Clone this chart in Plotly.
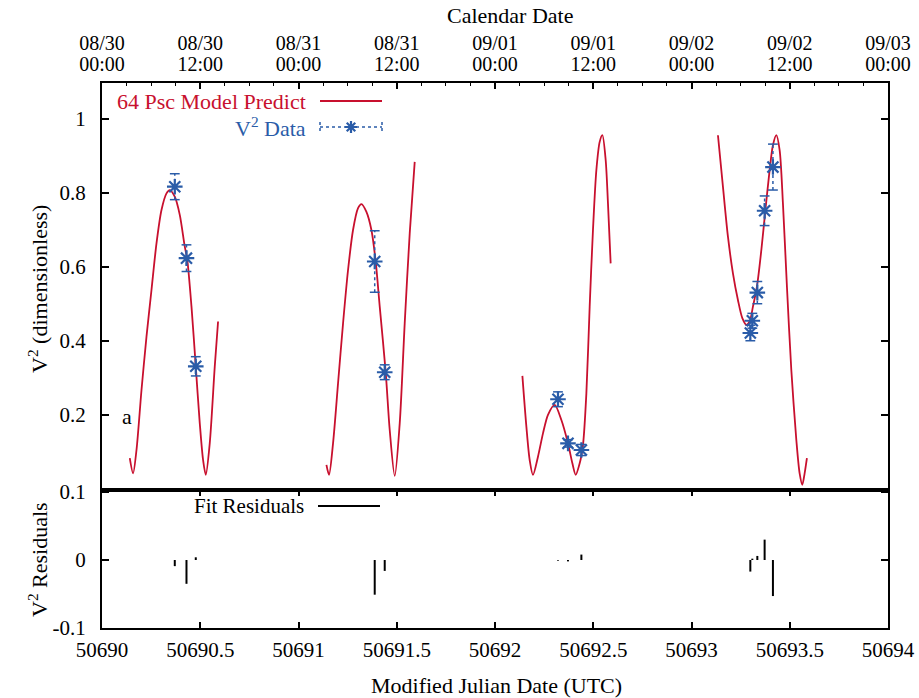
import plotly.graph_objects as go

# ---------------- data ----------------
# Model prediction curve, one segment per night (MJD, V^2)
model_n1_mjd = [50690.1414, 50690.1582, 50690.1755, 50690.2010, 50690.2264, 50690.2518, 50690.2773,
                50690.3027, 50690.3282, 50690.3450, 50690.3704, 50690.3958, 50690.4213, 50690.4330,
                50690.4554, 50690.4772, 50690.4976, 50690.5144, 50690.5281, 50690.5483, 50690.5738,
                50690.5907]
model_n1_v2 = [0.083, 0.042, 0.105, 0.267, 0.411, 0.537, 0.663, 0.753, 0.798, 0.807, 0.789, 0.740,
               0.654, 0.623, 0.492, 0.330, 0.177, 0.078, 0.038, 0.123, 0.330, 0.452]

model_n2_mjd = [50691.1422, 50691.1554, 50691.1758, 50691.2012, 50691.2267, 50691.2521, 50691.2775,
                50691.3030, 50691.3203, 50691.3457, 50691.3711, 50691.3930, 50691.4134, 50691.4439,
                50691.4642, 50691.4897, 50691.5151, 50691.5405, 50691.5660, 50691.5914]
model_n2_v2 = [0.065, 0.038, 0.123, 0.285, 0.447, 0.591, 0.699, 0.758, 0.769, 0.748, 0.699, 0.613,
               0.492, 0.314, 0.159, 0.035, 0.177, 0.447, 0.690, 0.883]

model_n3_mjd = [50692.1394, 50692.1597, 50692.1765, 50692.1933, 50692.2187, 50692.2442, 50692.2696,
                50692.3037, 50692.3378, 50692.3714, 50692.3938, 50692.4106, 50692.4310, 50692.4478,
                50692.4650, 50692.4818, 50692.4986, 50692.5159, 50692.5327, 50692.5464, 50692.5632,
                50692.5749, 50692.5886]
model_n3_v2 = [0.305, 0.168, 0.078, 0.038, 0.087, 0.150, 0.200, 0.227, 0.186, 0.123, 0.069, 0.038,
               0.069, 0.119, 0.258, 0.492, 0.699, 0.861, 0.937, 0.955, 0.888, 0.771, 0.609]

model_n4_mjd = [50693.1346, 50693.1600, 50693.1855, 50693.2109, 50693.2363, 50693.2587, 50693.2791,
                50693.2958, 50693.3126, 50693.3330, 50693.3554, 50693.3757, 50693.3976, 50693.4144,
                50693.4317, 50693.4485, 50693.4653, 50693.4857, 50693.5080, 50693.5335, 50693.5503,
                50693.5640, 50693.5757, 50693.5874]
model_n4_v2 = [0.955, 0.816, 0.681, 0.582, 0.510, 0.461, 0.443, 0.452, 0.492, 0.546, 0.645, 0.751,
               0.861, 0.928, 0.955, 0.915, 0.771, 0.546, 0.321, 0.132, 0.042, 0.011, 0.042, 0.083]

# Measured V^2 data with 1-sigma errors
data_mjd = [50690.3704, 50690.4299, 50690.4772,
            50691.3879, 50691.4388,
            50692.3205, 50692.3714, 50692.4396,
            50693.2994, 50693.3095, 50693.3350, 50693.3721, 50693.4144]
data_v2 = [0.816, 0.623, 0.331,
           0.614, 0.315,
           0.242, 0.123, 0.105,
           0.421, 0.454, 0.530, 0.751, 0.869]
data_err = [0.035, 0.036, 0.026,
            0.083, 0.020,
            0.020, 0.010, 0.015,
            0.021, 0.020, 0.030, 0.040, 0.062]

# Fit residuals (data - model)
resid = [-0.009, -0.035, 0.004,
         -0.051, -0.016,
         -0.001, -0.002, 0.008,
         -0.017, 0.002, 0.006, 0.030, -0.053]

# Axis ticks
mjd_ticks = [50690, 50690.5, 50691, 50691.5, 50692, 50692.5, 50693, 50693.5, 50694]
mjd_ticklabels = ["50690", "50690.5", "50691", "50691.5", "50692", "50692.5", "50693", "50693.5", "50694"]
cal_dates = ["08/30", "08/30", "08/31", "08/31", "09/01", "09/01", "09/02", "09/02", "09/03"]
cal_times = ["00:00", "12:00", "00:00", "12:00", "00:00", "12:00", "00:00", "12:00", "00:00"]
v2_ticks = [0.2, 0.4, 0.6, 0.8, 1.0]
v2_ticklabels = ["0.2", "0.4", "0.6", "0.8", "1"]
res_ticks = [-0.1, 0, 0.1]
res_ticklabels = ["-0.1", "0", "0.1"]

# ---------------- styling ----------------
RED = "#c8102e"
BLUE = "#2a5ca8"
FONT = "Liberation Serif"
W, H = 919, 698
PL, PR, PT, PB = 102, 888, 83, 628   # plot frame in screen pixels
ML, MR, MT, MB = PL, W - PR, PT, H - PB
PW, PH = PR - PL, PB - PT
split = (PB - 490) / PH


def px(xp):
    return (xp - PL) / PW


def py(yp):
    return (PB - yp) / PH


fig = go.Figure()

# model curve
mx, my = [], []
for xs, ys in [(model_n1_mjd, model_n1_v2), (model_n2_mjd, model_n2_v2),
               (model_n3_mjd, model_n3_v2), (model_n4_mjd, model_n4_v2)]:
    mx += xs + [None]
    my += ys + [None]
fig.add_trace(go.Scatter(x=mx, y=my, mode="lines", line=dict(color=RED, width=1.8, shape="spline", smoothing=0.8),
                         xaxis="x2", yaxis="y2", showlegend=False, hoverinfo="skip"))

# error bars (dotted) + caps
ex, ey, cx, cy = [], [], [], []
for x, v, e in zip(data_mjd, data_v2, data_err):
    ex += [x, x, None]
    ey += [v - e, v + e, None]
    cx += [x, x]
    cy += [v - e, v + e]
fig.add_trace(go.Scatter(x=ex, y=ey, mode="lines", line=dict(color=BLUE, width=1.5, dash="dot"),
                         xaxis="x2", yaxis="y2", showlegend=False, hoverinfo="skip"))
fig.add_trace(go.Scatter(x=cx, y=cy, mode="markers",
                         marker=dict(symbol="line-ew-open", size=7, color=BLUE, line=dict(color=BLUE, width=1.5)),
                         xaxis="x2", yaxis="y2", showlegend=False, hoverinfo="skip"))
fig.add_trace(go.Scatter(x=data_mjd, y=data_v2, mode="markers",
                         marker=dict(symbol="asterisk-open", size=13, color=BLUE, line=dict(color=BLUE, width=2.2)),
                         xaxis="x2", yaxis="y2", showlegend=False))

# residual impulses
rx, ry = [], []
for x, r in zip(data_mjd, resid):
    rx += [x, x, None]
    ry += [0, r, None]
fig.add_trace(go.Scatter(x=rx, y=ry, mode="lines", line=dict(color="black", width=2),
                         xaxis="x", yaxis="y", showlegend=False, hoverinfo="skip"))

# invisible traces to carry the top calendar axes
for xa in ("x3", "x4"):
    fig.add_trace(go.Scatter(x=[mjd_ticks[0], mjd_ticks[-1]], y=[0.5, 0.5], mode="markers",
                             marker=dict(opacity=0), xaxis=xa, yaxis="y2", showlegend=False, hoverinfo="skip"))

tickfont = dict(family=FONT, size=21, color="black")
topfont = dict(family=FONT, size=20, color="black")
xr = [mjd_ticks[0], mjd_ticks[-1]]

fig.update_layout(
    width=W, height=H,
    margin=dict(l=ML, r=MR, t=MT, b=MB, autoexpand=False),
    paper_bgcolor="white", plot_bgcolor="white",
    font=dict(family=FONT, color="black"),
    showlegend=False,
    xaxis=dict(domain=[0, 1], anchor="y", range=xr, tickmode="array", tickvals=mjd_ticks,
               ticktext=mjd_ticklabels, ticks="inside", ticklen=6, tickwidth=1.5, tickcolor="black",
               showline=True, linecolor="black", linewidth=2, mirror="ticks", showgrid=False,
               zeroline=False, tickfont=tickfont, ticklabelstandoff=2),
    yaxis=dict(domain=[0, split], anchor="x", range=[-0.1, 0.103], tickmode="array", tickvals=res_ticks,
               ticktext=res_ticklabels, ticks="inside", ticklen=7, tickwidth=1.5, tickcolor="black",
               showline=True, linecolor="black", linewidth=2, mirror="ticks", showgrid=False,
               zeroline=False, tickfont=tickfont, ticklabelstandoff=10),
    xaxis2=dict(domain=[0, 1], anchor="y2", range=xr, matches="x", showticklabels=False, ticks="",
                showline=True, linecolor="black", linewidth=2, mirror=True, showgrid=False, zeroline=False),
    yaxis2=dict(domain=[split, 1], anchor="x2", range=[-0.003, 1.096], tickmode="array", tickvals=v2_ticks,
                ticktext=v2_ticklabels, ticks="inside", ticklen=7, tickwidth=1.5, tickcolor="black",
                showline=True, linecolor="black", linewidth=2, mirror="ticks", showgrid=False,
                zeroline=False, tickfont=tickfont, ticklabelstandoff=10),
    xaxis3=dict(overlaying="x2", side="top", anchor="y2", range=xr, tickmode="array", tickvals=mjd_ticks,
                ticktext=cal_times, ticks="inside", ticklen=6, tickwidth=1.5, tickcolor="black",
                minor=dict(tickmode="linear", tick0=50690, dtick=0.125, ticks="inside", ticklen=3,
                           tickwidth=1.2, tickcolor="black", showgrid=False),
                showline=True, linecolor="black", linewidth=2, showgrid=False, zeroline=False,
                tickfont=topfont, ticklabelstandoff=2),
    xaxis4=dict(overlaying="x2", side="top", anchor="y2", range=xr, tickmode="array", tickvals=mjd_ticks,
                ticktext=cal_dates, ticks="", showline=False, showgrid=False, zeroline=False,
                tickfont=topfont, ticklabelstandoff=28),
)

ann = []


def add_text(text, xs, ys, size=22, color="black", xanchor="center", angle=0):
    ann.append(dict(text=text, x=px(xs), y=py(ys), xref="paper", yref="paper", xanchor=xanchor,
                    yanchor="middle", textangle=angle, showarrow=False,
                    font=dict(family=FONT, size=size, color=color)))


add_text("V<sup>2</sup> (dimensionless)", 38, 289, angle=-90)
add_text("V<sup>2</sup> Residuals", 38, 560, angle=-90)
add_text("Modified Julian Date (UTC)", 496, 686)
add_text("Calendar Date", 510, 16)
add_text("64 Psc Model Predict", 308, 101, color=RED, xanchor="right")
add_text("V<sup>2</sup> Data", 308, 127, color=BLUE, xanchor="right")
add_text("Fit Residuals", 306, 506, size=21, xanchor="right")
add_text("a", 127, 416)
fig.update_layout(annotations=ann)

shapes = []
# model key line
shapes.append(dict(type="line", xref="paper", yref="paper", x0=px(320), x1=px(382), y0=py(101), y1=py(101),
                   line=dict(color=RED, width=1.8)))
# data key: dotted line, end caps, asterisk
shapes.append(dict(type="line", xref="paper", yref="paper", x0=px(320), x1=px(382), y0=py(127), y1=py(127),
                   line=dict(color=BLUE, width=1.5, dash="dot")))
for xe in (320, 382):
    shapes.append(dict(type="line", xref="paper", yref="paper", x0=px(xe), x1=px(xe), y0=py(122), y1=py(132),
                       line=dict(color=BLUE, width=1.5, dash="dot")))
kx, ky, r = 351, 127, 6
d = r * 0.71
path = (f"M{px(kx)},{py(ky - r)} L{px(kx)},{py(ky + r)} "
        f"M{px(kx - r)},{py(ky)} L{px(kx + r)},{py(ky)} "
        f"M{px(kx - d)},{py(ky - d)} L{px(kx + d)},{py(ky + d)} "
        f"M{px(kx - d)},{py(ky + d)} L{px(kx + d)},{py(ky - d)}")
shapes.append(dict(type="path", xref="paper", yref="paper", path=path, line=dict(color=BLUE, width=2.2)))
# residual key line
shapes.append(dict(type="line", xref="paper", yref="paper", x0=px(318), x1=px(380), y0=py(506), y1=py(506),
                   line=dict(color="black", width=1.8)))
fig.update_layout(shapes=shapes)

fig.write_html("out.html", config={"displayModeBar": False},
               post_script="document.body.style.margin='0';document.body.style.overflow='hidden';")
